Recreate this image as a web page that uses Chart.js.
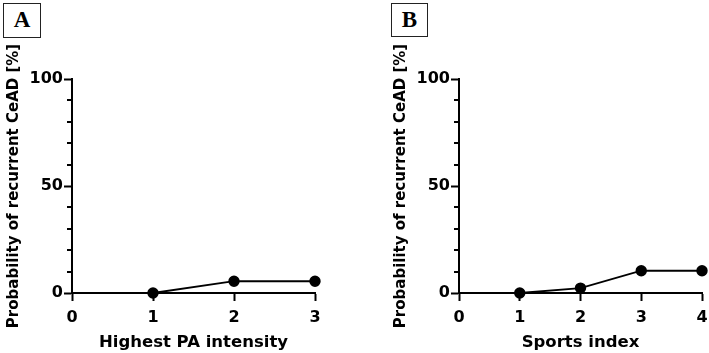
<!DOCTYPE html>
<html lang="en">
<head>
  <meta charset="UTF-8">
  <title>Probability of recurrent CeAD</title>
  <style>
    body { margin: 0; background: #fff; }
    .wrap { position: relative; width: 709px; height: 353px; overflow: hidden; }
    .panel-label {
      position: absolute; box-sizing: border-box;
      border: 1.5px solid #222; background: #fff;
      font-family: "Liberation Serif", "DejaVu Serif", serif; font-weight: bold;
      font-size: 23px; line-height: 32px; text-align: center; color: #000;
    }
    canvas { position: absolute; top: 0; }
  </style>
</head>
<body>
<div class="wrap">
  <canvas id="chartA" width="335" height="353" style="left:0"></canvas>
  <canvas id="chartB" width="322" height="353" style="left:387px"></canvas>
  <div class="panel-label" style="left:3px; top:3px; width:38px; height:35px;">A</div>
  <div class="panel-label" style="left:391px; top:3px; width:37px; height:34px;">B</div>
</div>
<script src="https://cdn.jsdelivr.net/npm/chart.js"></script>
<script>
  // panel A
  const intensityLevels = [1, 2, 3];
  const intensityProb = [0, 5.5, 5.5];
  // panel B
  const sportsLevels = [1, 2, 3, 4];
  const sportsProb = [0, 2.3, 10.4, 10.4];

  const yMajorTicks = [0, 50, 100];
  const yMinorTicks = [10, 20, 30, 40, 60, 70, 80, 90];
  const yTitle = 'Probability of recurrent CeAD [%]';

  const fontFam = '"DejaVu Sans", sans-serif';

  // short minor ticks on the y axis
  const minorTicks = {
    id: 'minorTicks',
    afterDraw(chart) {
      const y = chart.scales.y;
      const c = chart.ctx;
      c.save();
      c.strokeStyle = '#000';
      c.lineWidth = 2;
      yMinorTicks.forEach(v => {
        const py = Math.round(y.getPixelForValue(v));
        c.beginPath();
        c.moveTo(y.right - 5, py);
        c.lineTo(y.right, py);
        c.stroke();
      });
      c.restore();
    }
  };

  function makeChart(id, xs, ys, xMax, xTitle, rightPad) {
    const pts = xs.map((x, i) => ({x: x, y: ys[i]}));
    return new Chart(document.getElementById(id), {
      type: 'scatter',
      data: {
        datasets: [{
          data: pts,
          showLine: true,
          borderColor: '#000',
          borderWidth: 1.8,
          backgroundColor: '#000',
          pointRadius: 4.8,
          pointHoverRadius: 4.8,
          clip: false
        }]
      },
      options: {
        responsive: false,
        animation: false,
        layout: { autoPadding: false, padding: { top: 79, right: rightPad, left: 0, bottom: 0 } },
        plugins: { legend: { display: false }, tooltip: { enabled: false } },
        scales: {
          x: {
            type: 'linear', min: 0, max: xMax,
            afterFit(s) { s.height = 60; s.paddingRight = 0; s.paddingLeft = 0; },
            grid: { drawOnChartArea: false, drawTicks: true, tickLength: 8, tickWidth: 2, tickColor: '#000' },
            border: { display: true, width: 2, color: '#000' },
            ticks: { stepSize: 1, padding: 7, color: '#000', font: { family: fontFam, weight: 'bold', size: 16 } },
            title: { display: true, text: xTitle, color: '#000', padding: { top: 4, bottom: 0 },
                     font: { family: fontFam, weight: 'bold', size: 16.5 } }
          },
          y: {
            min: 0, max: 100,
            afterFit(s) { s.width = 72; },
            afterBuildTicks(s) { s.ticks = yMajorTicks.map(v => ({value: v})); },
            grid: { drawOnChartArea: false, drawTicks: true, tickLength: 8, tickWidth: 2, tickColor: '#000' },
            border: { display: true, width: 2, color: '#000' },
            ticks: { padding: 1, color: '#000', font: { family: fontFam, weight: 'bold', size: 16 } },
            title: { display: true, text: yTitle, color: '#000', padding: { top: 5, bottom: 0 },
                     font: { family: fontFam, weight: 'bold', size: 15 } }
          }
        }
      },
      plugins: [minorTicks]
    });
  }

  makeChart('chartA', intensityLevels, intensityProb, 3, 'Highest PA intensity', 20);
  makeChart('chartB', sportsLevels, sportsProb, 4, 'Sports index', 7);
</script>
</body>
</html>
